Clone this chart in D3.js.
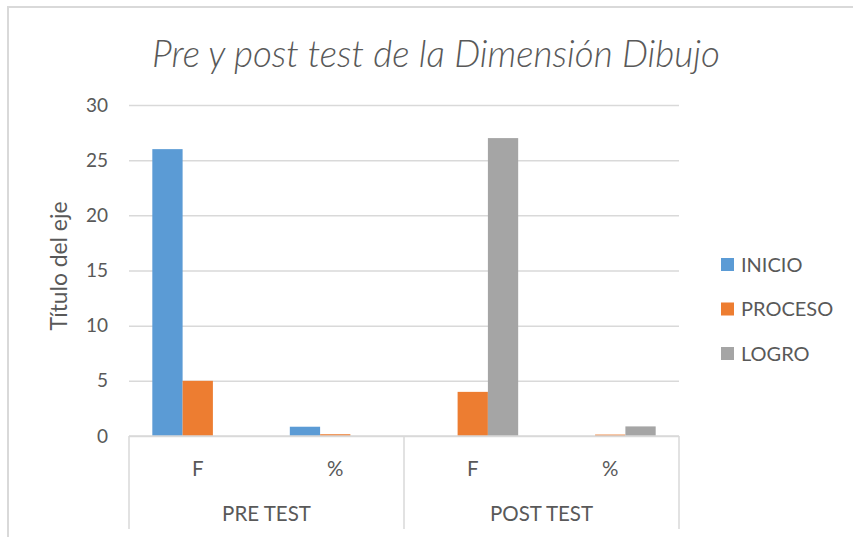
<!DOCTYPE html>
<html>
<head>
<meta charset="utf-8">
<script src="https://cdn.jsdelivr.net/npm/d3@7"></script>
<style>
  body { margin: 0; background: #fff; }
  text { font-family: Lato, "Open Sans", sans-serif; fill: #595959; }
</style>
</head>
<body>
<svg id="chart" width="853" height="537"></svg>
<script>
const groups = ["PRE TEST", "POST TEST"];
const subLabels = ["F", "%"];
const series = ["INICIO", "PROCESO", "LOGRO"];
const colors = ["#5B9BD5", "#ED7D31", "#A5A5A5"];
// one value per category (PRE F, PRE %, POST F, POST %)
const inicio = [26, 0.84, 0, 0];
const proceso = [5, 0.16, 4, 0.13];
const logro = [0, 0, 27, 0.87];
const yTicks = [0, 5, 10, 15, 20, 25, 30];

const svg = d3.select("#chart");
const margin = {top: 105, left: 129, right: 174, bottom: 101};
const width = 853 - margin.left - margin.right;
const height = 537 - margin.top - margin.bottom;

// scale a text's font so that it spans the given length
function fitText(sel, base, target) {
    sel.style("font-size", base + "px");
    const len = sel.node().getComputedTextLength();
    if (len > 0) sel.style("font-size", (base * target / len).toFixed(2) + "px");
}

// outer chart frame (cropped at right and bottom)
svg.append("rect")
    .attr("x", 8).attr("y", 7)
    .attr("width", 900).attr("height", 600)
    .attr("fill", "none")
    .attr("stroke", "#d9d9d9")
    .attr("stroke-width", 2);

const title = svg.append("text")
    .attr("x", 436).attr("y", 67)
    .attr("text-anchor", "middle")
    .style("font-style", "italic")
    .style("font-weight", 300)
    .text("Pre y post test de la Dimensión Dibujo");
fitText(title, 30, 568);

const g = svg.append("g")
    .attr("transform", `translate(${margin.left},${margin.top})`);

const cats = [];
groups.forEach(gr => subLabels.forEach(s => cats.push({group: gr, label: s, key: gr + "|" + s})));
const data = cats.map((c, i) => ({...c, values: [inicio[i], proceso[i], logro[i]]}));

const x0 = d3.scaleBand().domain(cats.map(c => c.key)).range([0, width]);
const x1 = d3.scaleBand().domain(series).range([0, x0.bandwidth()]).paddingInner(0).paddingOuter(0.77);
const y = d3.scaleLinear().domain([0, 30]).range([height, 0]);
const color = d3.scaleOrdinal().domain(series).range(colors);

const yAxis = g.append("g")
    .call(d3.axisLeft(y).tickValues(yTicks).tickSize(-width).tickPadding(21));
yAxis.select(".domain").remove();
yAxis.selectAll("line").attr("stroke", "#d9d9d9").attr("stroke-width", 1.5);
yAxis.selectAll("text").style("font-size", "19px").attr("fill", "#595959");

const yTitle = svg.append("text")
    .attr("transform", "translate(67,266) rotate(-90)")
    .attr("text-anchor", "middle")
    .text("Título del eje");
fitText(yTitle, 20, 129);

// bars
const cat = g.selectAll(".cat")
    .data(data)
    .join("g")
    .attr("transform", d => `translate(${x0(d.key)},0)`);

cat.selectAll("rect")
    .data(d => d.values.map((v, i) => ({s: series[i], v})))
    .join("rect")
    .attr("x", d => x1(d.s))
    .attr("y", d => y(d.v))
    .attr("width", x1.bandwidth())
    .attr("height", d => height - y(d.v))
    .attr("fill", d => color(d.s));

// category axis
g.append("line")
    .attr("x1", 0).attr("x2", width)
    .attr("y1", height).attr("y2", height)
    .attr("stroke", "#d9d9d9").attr("stroke-width", 1.5);

const groupScale = d3.scaleBand().domain(groups).range([0, width]);
[0, ...groups.map(gr => groupScale(gr) + groupScale.bandwidth())].forEach(xv => {
    g.append("line")
        .attr("x1", xv).attr("x2", xv)
        .attr("y1", height).attr("y2", height + 93)
        .attr("stroke", "#d9d9d9").attr("stroke-width", 1.5);
});

g.selectAll(".sub")
    .data(cats)
    .join("text")
    .attr("x", d => x0(d.key) + x0.bandwidth() / 2)
    .attr("y", height + 40)
    .attr("text-anchor", "middle")
    .style("font-size", "20.5px")
    .text(d => d.label);

g.selectAll(".grp")
    .data(groups)
    .join("text")
    .attr("x", d => groupScale(d) + groupScale.bandwidth() / 2)
    .attr("y", height + 85)
    .attr("text-anchor", "middle")
    .style("font-size", "20.5px")
    .text(d => d);

// legend
const legend = svg.append("g")
    .selectAll("g")
    .data(series)
    .join("g")
    .attr("transform", (d, i) => `translate(721,${258 + i * 44.5})`);

legend.append("rect")
    .attr("width", 13).attr("height", 13)
    .attr("fill", color);

legend.append("text")
    .attr("x", 20).attr("y", 6.5)
    .attr("dy", "0.36em")
    .style("font-size", "20px")
    .text(d => d);
</script>
</body>
</html>
